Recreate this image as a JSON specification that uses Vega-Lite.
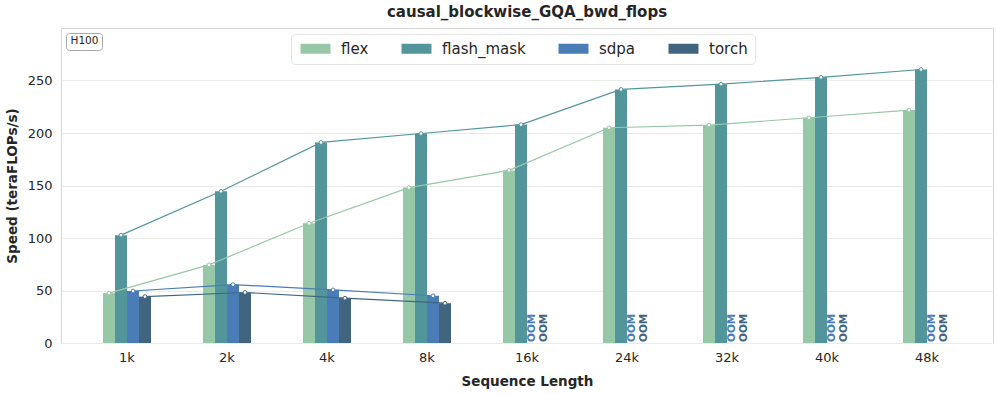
{
  "$schema": "https://vega.github.io/schema/vega-lite/v6.json",
  "width": 932,
  "height": 315,
  "padding": {"left": 5, "top": 5, "right": 5, "bottom": 5},
  "config": {
    "font": "DejaVu Sans",
    "view": {"stroke": "#d6d6d6", "strokeWidth": 1},
    "axis": {"labelColor": "#262626", "titleColor": "#262626", "labelFont": "DejaVu Sans", "titleFont": "DejaVu Sans"},
    "legend": {"labelColor": "#262626", "labelFont": "DejaVu Sans"}
  },
  "title": {
    "text": "causal_blockwise_GQA_bwd_flops",
    "fontSize": 15,
    "fontWeight": "bold",
    "color": "#262626",
    "frame": "group",
    "anchor": "middle",
    "offset": 8
  },
  "data": {
    "values": [
      {"seq": "1k", "series": "flex", "value": 47.5},
      {"seq": "1k", "series": "flash_mask", "value": 102.7},
      {"seq": "1k", "series": "sdpa", "value": 49.5},
      {"seq": "1k", "series": "torch", "value": 44.2},
      {"seq": "2k", "series": "flex", "value": 74.4},
      {"seq": "2k", "series": "flash_mask", "value": 144.5},
      {"seq": "2k", "series": "sdpa", "value": 55.6},
      {"seq": "2k", "series": "torch", "value": 48.1},
      {"seq": "4k", "series": "flex", "value": 114},
      {"seq": "4k", "series": "flash_mask", "value": 191},
      {"seq": "4k", "series": "sdpa", "value": 50.6},
      {"seq": "4k", "series": "torch", "value": 42.7},
      {"seq": "8k", "series": "flex", "value": 148},
      {"seq": "8k", "series": "flash_mask", "value": 199.5},
      {"seq": "8k", "series": "sdpa", "value": 45},
      {"seq": "8k", "series": "torch", "value": 37.9},
      {"seq": "16k", "series": "flex", "value": 164.4},
      {"seq": "16k", "series": "flash_mask", "value": 208},
      {"seq": "16k", "series": "sdpa", "value": null, "label": "OOM"},
      {"seq": "16k", "series": "torch", "value": null, "label": "OOM"},
      {"seq": "24k", "series": "flex", "value": 205},
      {"seq": "24k", "series": "flash_mask", "value": 241.5},
      {"seq": "24k", "series": "sdpa", "value": null, "label": "OOM"},
      {"seq": "24k", "series": "torch", "value": null, "label": "OOM"},
      {"seq": "32k", "series": "flex", "value": 207.5},
      {"seq": "32k", "series": "flash_mask", "value": 246.5},
      {"seq": "32k", "series": "sdpa", "value": null, "label": "OOM"},
      {"seq": "32k", "series": "torch", "value": null, "label": "OOM"},
      {"seq": "40k", "series": "flex", "value": 214.5},
      {"seq": "40k", "series": "flash_mask", "value": 253},
      {"seq": "40k", "series": "sdpa", "value": null, "label": "OOM"},
      {"seq": "40k", "series": "torch", "value": null, "label": "OOM"},
      {"seq": "48k", "series": "flex", "value": 221.8},
      {"seq": "48k", "series": "flash_mask", "value": 260.5},
      {"seq": "48k", "series": "sdpa", "value": null, "label": "OOM"},
      {"seq": "48k", "series": "torch", "value": null, "label": "OOM"}
    ]
  },
  "encoding": {
    "x": {
      "field": "seq",
      "type": "nominal",
      "sort": ["1k", "2k", "4k", "8k", "16k", "24k", "32k", "40k", "48k"],
      "scale": {"paddingInner": 0.52, "paddingOuter": 0.42},
      "axis": {
        "title": "Sequence Length",
        "labelAngle": 0,
        "labelFontSize": 13,
        "labelPadding": 8,
        "ticks": false,
        "domain": false,
        "grid": false,
        "titleFontSize": 13.5,
        "titleFontWeight": "bold",
        "titlePadding": 10
      }
    },
    "xOffset": {
      "field": "series",
      "type": "nominal",
      "sort": ["flex", "flash_mask", "sdpa", "torch"]
    },
    "color": {
      "field": "series",
      "type": "nominal",
      "scale": {
        "domain": ["flex", "flash_mask", "sdpa", "torch"],
        "range": ["#96c7a7", "#52969c", "#4a7db8", "#41657f"]
      },
      "legend": null
    }
  },
  "layer": [
    {
      "mark": {"type": "bar"},
      "encoding": {
        "y": {
          "field": "value",
          "type": "quantitative",
          "scale": {"domain": [0, 300], "nice": false},
          "axis": {
            "title": "Speed (teraFLOPs/s)",
            "values": [0, 50, 100, 150, 200, 250],
            "labelFontSize": 13,
            "labelPadding": 9,
            "ticks": false,
            "domain": false,
            "gridColor": "#ebebeb",
            "gridWidth": 1,
            "titleFontSize": 13.5,
            "titleFontWeight": "bold",
            "titlePadding": 8
          }
        },
        "color": {
          "field": "series",
          "type": "nominal",
          "legend": {
            "orient": "none",
            "legendX": 230,
            "legendY": 6,
            "direction": "horizontal",
            "title": null,
            "labelFontSize": 15,
            "symbolType": "M-3,-1L3,-1L3,1L-3,1Z",
            "symbolSize": 100,
            "symbolStrokeWidth": 0,
            "symbolOffset": 10,
            "labelOffset": 18,
            "columnPadding": 30,
            "padding": 7,
            "fillColor": "white",
            "strokeColor": "#e3e3e3",
            "cornerRadius": 4
          }
        }
      }
    },
    {
      "mark": {"type": "line", "strokeWidth": 1.2},
      "encoding": {
        "y": {"field": "value", "type": "quantitative"}
      }
    },
    {
      "mark": {"type": "point", "filled": false, "fill": "white", "size": 14, "strokeWidth": 1, "opacity": 1},
      "encoding": {
        "y": {"field": "value", "type": "quantitative"},
        "shape": {
          "datum": "H100",
          "type": "nominal",
          "scale": {"range": ["circle"]},
          "legend": {
            "orient": "top-left",
            "offset": 5,
            "title": null,
            "symbolSize": 0,
            "symbolOpacity": 0,
            "symbolStrokeWidth": 0,
            "labelOffset": -9,
            "labelFontSize": 10.5,
            "padding": 3,
            "fillColor": "white",
            "strokeColor": "#a8a8a8",
            "cornerRadius": 3
          }
        }
      }
    },
    {
      "transform": [{"filter": "datum.label == 'OOM'"}],
      "mark": {"type": "text", "angle": 270, "align": "left", "baseline": "middle", "fontWeight": "bold", "fontSize": 10.5, "dx": 1, "dy": -1.5},
      "encoding": {
        "y": {"datum": 0, "type": "quantitative"},
        "text": {"field": "label"}
      }
    }
  ]
}
